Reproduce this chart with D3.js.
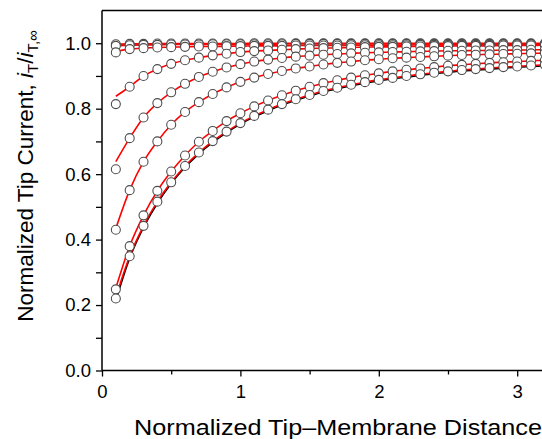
<!DOCTYPE html>
<html>
<head>
<meta charset="utf-8">
<script src="https://cdn.jsdelivr.net/npm/d3@7/dist/d3.min.js"></script>
<style>
  html, body { margin: 0; padding: 0; background: #fff; overflow: hidden; }
  svg { display: block; font-family: "Liberation Sans", Arial, sans-serif; }
</style>
</head>
<body>
<div id="grafico"></div>
<script>
// distance (normalized) where the points were taken
const distancias = [0.1, 0.2, 0.3, 0.4, 0.5, 0.6, 0.7, 0.8, 0.9, 1.0,
  1.1, 1.2, 1.3, 1.4, 1.5, 1.6, 1.7, 1.8, 1.9, 2.0,
  2.1, 2.2, 2.3, 2.4, 2.5, 2.6, 2.7, 2.8, 2.9, 3.0, 3.1, 3.2];

// measured curves, top to bottom
const serie1 = [0.997, 0.998, 0.998, 0.999, 0.999, 0.999, 0.999, 0.999, 0.999, 0.999,
  1.0, 1.0, 1.0, 1.0, 1.0, 1.0, 1.0, 1.0, 1.0, 1.0,
  1.0, 1.0, 1.0, 1.0, 1.0, 1.0, 1.0, 1.0, 1.0, 1.0, 1.0, 1.0];
const serie2 = [0.992, 0.994, 0.995, 0.995, 0.996, 0.996, 0.996, 0.997, 0.997, 0.997,
  0.997, 0.997, 0.997, 0.998, 0.998, 0.998, 0.998, 0.998, 0.998, 0.998,
  0.998, 0.998, 0.998, 0.998, 0.998, 0.998, 0.998, 0.998, 0.998, 0.998, 0.998, 0.998];
const serie3 = [0.972, 0.982, 0.985, 0.987, 0.988, 0.989, 0.990, 0.990, 0.991, 0.991,
  0.992, 0.992, 0.992, 0.993, 0.993, 0.993, 0.993, 0.994, 0.994, 0.994,
  0.994, 0.994, 0.995, 0.995, 0.995, 0.995, 0.995, 0.995, 0.996, 0.996, 0.996, 0.996];
const serie4 = [0.814, 0.867, 0.900, 0.921, 0.937, 0.948, 0.956, 0.963, 0.968, 0.973,
  0.976, 0.978, 0.980, 0.982, 0.984, 0.985, 0.986, 0.987, 0.988, 0.989,
  0.989, 0.990, 0.990, 0.991, 0.991, 0.992, 0.992, 0.992, 0.993, 0.993, 0.993, 0.994];
const serie5 = [0.615, 0.710, 0.773, 0.817, 0.850, 0.876, 0.897, 0.913, 0.926, 0.936,
  0.944, 0.950, 0.955, 0.959, 0.962, 0.965, 0.967, 0.969, 0.971, 0.972,
  0.973, 0.974, 0.975, 0.976, 0.977, 0.977, 0.978, 0.978, 0.979, 0.979, 0.980, 0.980];
const serie6 = [0.430, 0.551, 0.638, 0.700, 0.751, 0.790, 0.820, 0.845, 0.865, 0.882,
  0.895, 0.906, 0.915, 0.923, 0.929, 0.935, 0.940, 0.944, 0.948, 0.951,
  0.954, 0.956, 0.958, 0.960, 0.962, 0.964, 0.965, 0.966, 0.967, 0.968, 0.969, 0.970];
const serie7 = [0.248, 0.380, 0.474, 0.549, 0.608, 0.657, 0.699, 0.732, 0.762, 0.786,
  0.807, 0.825, 0.841, 0.855, 0.867, 0.878, 0.887, 0.895, 0.902, 0.908,
  0.914, 0.919, 0.923, 0.927, 0.931, 0.934, 0.937, 0.940, 0.942, 0.944, 0.946, 0.948];
const serie8 = [0.220, 0.349, 0.442, 0.516, 0.575, 0.625, 0.666, 0.701, 0.730, 0.756,
  0.778, 0.797, 0.814, 0.829, 0.842, 0.854, 0.864, 0.873, 0.881, 0.888,
  0.894, 0.900, 0.905, 0.910, 0.914, 0.918, 0.921, 0.924, 0.927, 0.929, 0.932, 0.934];
const series = [serie1, serie2, serie3, serie4, serie5, serie6, serie7, serie8];

// fitted (red) line value at the first distance, where it leaves the point
const ajusteInicio = [0.997, 0.992, 0.975, 0.838, 0.638, 0.434, 0.252, 0.224];

// black reference curve sitting under the lowest fit
const curvaPreta = [0.214, 0.343, 0.437, 0.511, 0.571, 0.621, 0.662, 0.697, 0.727, 0.753,
  0.775, 0.794, 0.811, 0.826, 0.839, 0.851, 0.861, 0.870, 0.878, 0.885,
  0.891, 0.897, 0.902, 0.907, 0.911, 0.915, 0.918, 0.921, 0.924, 0.927, 0.929, 0.931];

const ticksX = [0, 1, 2, 3];
const ticksXMenor = [0.5, 1.5, 2.5];
const ticksY = [0.0, 0.2, 0.4, 0.6, 0.8, 1.0];
const ticksYMenor = [0.1, 0.3, 0.5, 0.7, 0.9];

const width = 542, height = 439;
const esquerda = 102, base = 370.5, topo = 10.5;

const svg = d3.select("#grafico").append("svg")
  .attr("width", width)
  .attr("height", height);

const x = d3.scaleLinear().domain([0, 3.5]).range([esquerda, esquerda + 3.5 * 138.4]);
const y = d3.scaleLinear().domain([0, 1.1]).range([base, topo]);

const linha = d3.line()
  .x(d => x(d[0]))
  .y(d => y(d[1]))
  .curve(d3.curveMonotoneX);

// black reference
svg.append("path")
  .datum(distancias.map((d, i) => [d, curvaPreta[i]]))
  .attr("d", linha)
  .attr("fill", "none")
  .attr("stroke", "#000")
  .attr("stroke-width", 1.6);

// red fits
series.forEach((s, k) => {
  const pts = distancias.map((d, i) => [d, i === 0 ? ajusteInicio[k] : s[i]]);
  svg.append("path")
    .datum(pts)
    .attr("d", linha)
    .attr("fill", "none")
    .attr("stroke", "#ff0000")
    .attr("stroke-width", 1.6);
});

// open circles
series.forEach(s => {
  svg.append("g").selectAll("circle")
    .data(distancias.map((d, i) => [d, s[i]]))
    .join("circle")
    .attr("cx", d => x(d[0]))
    .attr("cy", d => y(d[1]))
    .attr("r", 4.5)
    .attr("fill", "#fff")
    .attr("stroke", "#4d4d4d")
    .attr("stroke-width", 1.1);
});

// axes
svg.append("g").attr("transform", `translate(0,${base})`)
  .call(d3.axisBottom(x).tickValues(ticksX).tickSize(6).tickPadding(8).tickFormat(d3.format("d")));
svg.append("g").attr("transform", `translate(0,${base})`)
  .call(d3.axisBottom(x).tickValues(ticksXMenor).tickSize(4).tickFormat(""));
svg.append("g").attr("transform", `translate(${esquerda},0)`)
  .call(d3.axisLeft(y).tickValues(ticksY).tickSize(6).tickPadding(5).tickFormat(d3.format(".1f")));
svg.append("g").attr("transform", `translate(${esquerda},0)`)
  .call(d3.axisLeft(y).tickValues(ticksYMenor).tickSize(6).tickFormat(""));

svg.selectAll(".domain").remove();
svg.selectAll(".tick line").attr("stroke", "#000").attr("stroke-width", 1.3);
svg.selectAll(".tick text").attr("font-size", 18.5).attr("fill", "#000")
  .attr("font-family", "'Liberation Sans', Arial, sans-serif");

// frame lines: left, bottom, top
svg.append("line").attr("x1", esquerda).attr("x2", esquerda).attr("y1", topo).attr("y2", base)
  .attr("stroke", "#000").attr("stroke-width", 1.5);
svg.append("line").attr("x1", esquerda).attr("x2", width).attr("y1", base).attr("y2", base)
  .attr("stroke", "#000").attr("stroke-width", 1.5);
svg.append("line").attr("x1", esquerda).attr("x2", width).attr("y1", topo).attr("y2", topo)
  .attr("stroke", "#000").attr("stroke-width", 1.5);

// x title
svg.append("text")
  .attr("x", 338).attr("y", 435)
  .attr("text-anchor", "middle")
  .attr("font-size", 22)
  .attr("textLength", 408)
  .attr("lengthAdjust", "spacingAndGlyphs")
  .text("Normalized Tip\u2013Membrane Distance");

// y title
const tituloY = svg.append("text")
  .attr("transform", "translate(33,176) rotate(-90)")
  .attr("text-anchor", "middle")
  .attr("font-size", 22.5);
tituloY.append("tspan").text("Normalized Tip Current, ");
tituloY.append("tspan").attr("font-style", "italic").text("i");
tituloY.append("tspan").attr("font-size", 15).attr("dy", 5).text("T");
tituloY.append("tspan").attr("dy", -5).text("/");
tituloY.append("tspan").attr("font-style", "italic").text("i");
tituloY.append("tspan").attr("font-size", 15).attr("dy", 5).text("T,\u221E");
</script>
</body>
</html>
